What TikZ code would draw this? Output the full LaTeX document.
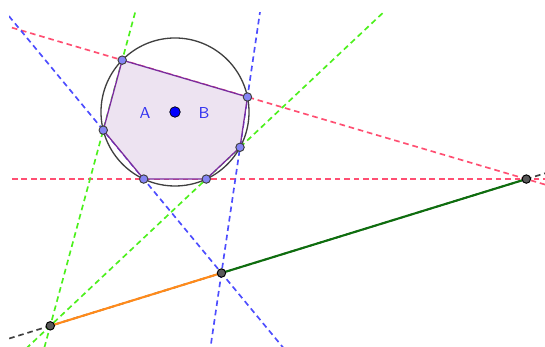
\documentclass[tikz,border=0pt]{standalone}
\usepackage{tikz}
\usetikzlibrary{calc}
\usepackage{xcolor}
\definecolor{pinkred}{HTML}{FF4F72}
\definecolor{dashblue}{HTML}{4D4DFF}
\definecolor{dashgreen}{HTML}{4CF01C}
\definecolor{polyfill}{HTML}{EDE3F1}
\definecolor{polyedge}{HTML}{7B2C9E}
\definecolor{ptblue}{HTML}{8585F5}
\definecolor{labelblue}{HTML}{3333F0}
\definecolor{segorange}{HTML}{FF8A1A}
\definecolor{segdark}{HTML}{0E6E0E}

\begin{document}
\begin{tikzpicture}[
    x=0.02cm, y=0.02cm,
    font=\sffamily\small,
    ln/.style={line width=0.95pt, dash pattern=on 3.2pt off 2.2pt},
    redln/.style={ln, pinkred},
    blueln/.style={ln, dashblue},
    greenln/.style={ln, dashgreen},
    vert/.style={circle, draw=black!75, fill=ptblue, inner sep=0pt, minimum size=4.8pt, line width=0.55pt},
    meet/.style={circle, draw=black, fill=black!65, inner sep=0pt, minimum size=4.8pt, line width=0.55pt}
  ]
    \useasboundingbox (0,0) rectangle (545,347);
    \coordinate (O) at (175,235);
    \foreach \name/\ang in {P1/135.5, P2/11.7, P3/-28.5, P4/-65, P5/-115, P6/194.2}
      \coordinate (\name) at ($(O)+(\ang:74)$);

    % meeting points of opposite sides
    \coordinate (Q1) at (intersection of P3--P4 and P6--P1);
    \coordinate (Q2) at (intersection of P2--P3 and P5--P6);
    \coordinate (Q3) at (intersection of P1--P2 and P4--P5);

    \begin{scope}
      \clip (9,0) rectangle (545,334);
      \draw[redln] ($(P1)!-12!(P2)$) -- ($(P1)!12!(P2)$);
      \draw[redln] ($(P4)!-12!(P5)$) -- ($(P4)!12!(P5)$);
      \draw[blueln] ($(P2)!-12!(P3)$) -- ($(P2)!12!(P3)$);
      \draw[blueln] ($(P5)!-12!(P6)$) -- ($(P5)!12!(P6)$);
      \draw[greenln] ($(P3)!-12!(P4)$) -- ($(P3)!12!(P4)$);
      \draw[greenln] ($(P6)!-12!(P1)$) -- ($(P6)!12!(P1)$);
      % Pascal line
      \draw[ln, black!75] ($(Q1)!-3!(Q3)$) -- ($(Q1)!3!(Q3)$);
    \end{scope}

    \filldraw[fill=polyfill, draw=polyedge, line width=0.75pt]
      (P1) -- (P2) -- (P3) -- (P4) -- (P5) -- (P6) -- cycle;
    \draw[black!75, line width=0.75pt] (O) circle (74);

    \draw[segorange, line width=1.2pt] (Q1) -- (Q2);
    \draw[segdark, line width=1.2pt] (Q2) -- (Q3);

    \node[text=labelblue] (lblA) at (145,234) {A};
    \node[text=labelblue] (lblB) at (204,234) {B};
    \node[circle, draw=black, fill=blue, inner sep=0pt, minimum size=6pt] (ctr) at (O) {};

    \foreach \p in {P1,P2,P3,P4,P5,P6}
      \node[vert] (v\p) at (\p) {};
    \foreach \q in {Q1,Q2,Q3}
      \node[meet] (m\q) at (\q) {};
  \end{tikzpicture}
\end{document}
